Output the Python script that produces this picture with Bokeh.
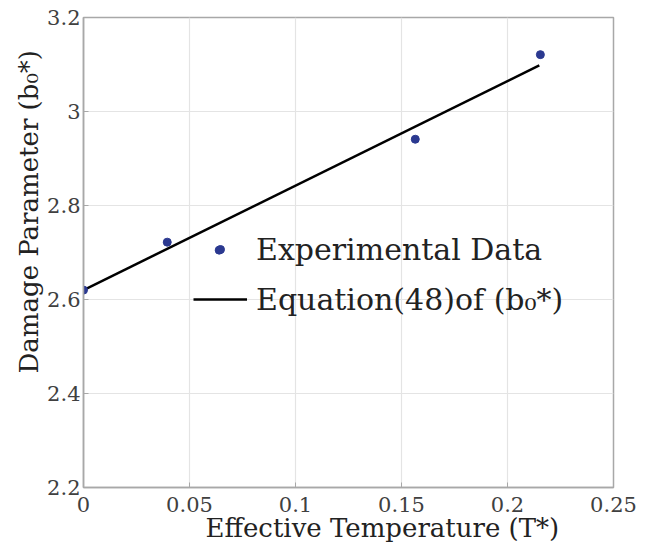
from bokeh.plotting import figure
from bokeh.models import FixedTicker, Title, Legend, LegendItem, Range1d
from bokeh.embed import file_html
from bokeh.resources import INLINE

# ---- data ----
exp_T = [0.0, 0.0395, 0.064, 0.1565, 0.2155]
exp_b0 = [2.62, 2.722, 2.705, 2.941, 3.121]
eq_T = [0.0, 0.215]
eq_b0 = [2.62, 3.098]

x_ticks = [0.0, 0.05, 0.1, 0.15, 0.2, 0.25]
x_tick_labels = ["0", "0.05", "0.1", "0.15", "0.2", "0.25"]
y_ticks = [2.2, 2.4, 2.6, 2.8, 3.0, 3.2]
y_tick_labels = ["2.2", "2.4", "2.6", "2.8", "3", "3.2"]

x_label = "Effective Temperature (T*)"
y_label = "Damage Parameter (b\u2080*)"
series_names = ["Experimental Data", "Equation(48)of (b\u2080*)"]

FONT = "DejaVu Serif"

p = figure(width=638, height=545, output_backend="svg", toolbar_location=None,
           x_range=Range1d(0, 0.25), y_range=Range1d(2.2, 3.2),
           min_border_left=83, min_border_right=25, min_border_top=17,
           min_border_bottom=58)
p.background_fill_color = "white"
p.border_fill_color = "white"
p.outline_line_color = "#a8a8a8"
p.outline_line_width = 1.5

line_r = p.line(eq_T, eq_b0, line_color="black", line_width=2.5)
pts_r = p.scatter(exp_T, exp_b0, size=8, fill_color="#2b3990",
                  line_color="#2b3990")

for ax in (p.xaxis[0], p.yaxis[0]):
    ax.axis_line_color = "#a8a8a8"
    ax.axis_line_width = 1.5
    ax.major_tick_line_color = "#a8a8a8"
    ax.major_tick_in = 5
    ax.major_tick_out = 0
    ax.minor_tick_line_color = None
    ax.major_label_text_font = FONT
    ax.major_label_text_font_size = "21px"
    ax.major_label_text_color = "#404040"

p.xaxis[0].ticker = FixedTicker(ticks=x_ticks)
p.yaxis[0].ticker = FixedTicker(ticks=y_ticks)
p.xaxis[0].major_label_overrides = dict(zip(x_ticks, x_tick_labels))
p.yaxis[0].major_label_overrides = dict(zip(y_ticks, y_tick_labels))
p.xaxis[0].major_label_standoff = 9
p.yaxis[0].major_label_standoff = 3

p.xgrid[0].ticker = FixedTicker(ticks=x_ticks)
p.ygrid[0].ticker = FixedTicker(ticks=y_ticks)
p.grid.grid_line_color = "#e4e4e4"
p.grid.grid_line_width = 1.2

xt = Title(text=x_label, align="left", offset=122, standoff=-8,
           text_font=FONT, text_font_size="26px", text_font_style="normal",
           text_color="#222222")
yt = Title(text=y_label, align="left", offset=114, standoff=2,
           text_font=FONT, text_font_size="26px", text_font_style="normal",
           text_color="#222222")
p.add_layout(xt, "below")
p.add_layout(yt, "left")

legend = Legend(items=[LegendItem(label=series_names[0], renderers=[pts_r]),
                       LegendItem(label=series_names[1], renderers=[line_r])],
                location=(110, 163), padding=0, spacing=0, margin=0,
                label_height=50, glyph_height=20, glyph_width=54,
                label_standoff=9,
                label_text_font=FONT, label_text_font_size="30px",
                label_text_color="#222222",
                background_fill_alpha=0, border_line_color=None)
p.add_layout(legend, "center")

open("out.html", "w").write(file_html(p, INLINE))
